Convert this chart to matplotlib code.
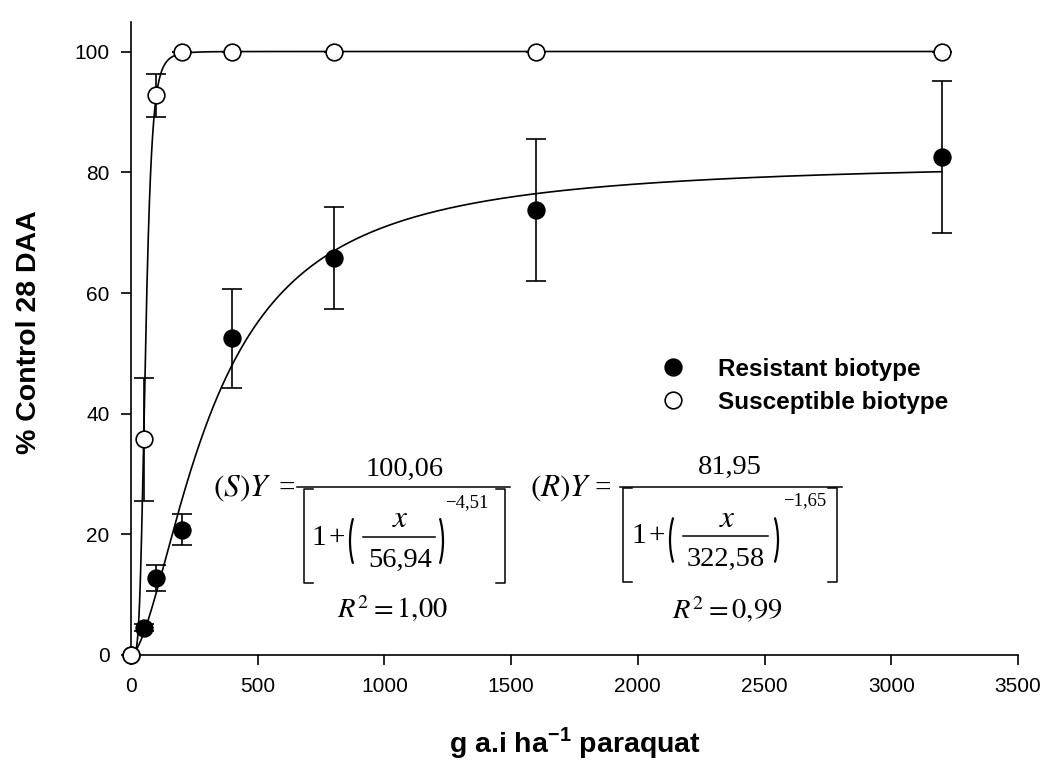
import numpy as np
import matplotlib
matplotlib.use("Agg")
import matplotlib.pyplot as plt
from matplotlib.transforms import Affine2D
from matplotlib.lines import Line2D
from matplotlib.patches import Arc

plt.rcParams['font.family'] = ['Liberation Sans', 'DejaVu Sans']
plt.rcParams['mathtext.fontset'] = 'stix'

dose = [0, 50, 100, 200, 400, 800, 1600, 3200]
res_mean = [0, 4.5, 12.8, 20.8, 52.5, 65.8, 73.8, 82.5]
res_err = [0, 0.6, 2.2, 2.5, 8.2, 8.5, 11.8, 12.6]
sus_mean = [0, 35.8, 92.8, 100, 100, 100, 100, 100]
sus_err = [0, 10.2, 3.6, 0, 0, 0, 0, 0]

# fitted log-logistic parameters (shown in the chart)
sus_a, sus_c, sus_b = 100.06, 56.94, -4.51
res_a, res_c, res_b = 81.95, 322.58, -1.65
sus_r2, res_r2 = '1,00', '0,99'

xticks = [0, 500, 1000, 1500, 2000, 2500, 3000, 3500]
yticks = [0, 20, 40, 60, 80, 100]

W, H = 1047, 762
fig = plt.figure(figsize=(W/100, H/100), dpi=100)
ax = fig.add_axes([131/W, 1-655/H, (1018-131)/W, (655-21.7)/H])

def model(x, a, c, b):
    x = np.asarray(x, float)
    out = np.zeros_like(x)
    m = x > 0
    out[m] = a / (1 + (x[m]/c)**b)
    return out

xs = np.linspace(0, max(dose), 3000)
ax.plot(xs, model(xs, sus_a, sus_c, sus_b), color='black', lw=1.2, zorder=2)
ax.plot(xs, model(xs, res_a, res_c, res_b), color='black', lw=1.2, zorder=2)

ax.errorbar(dose, res_mean, yerr=res_err, fmt='none', ecolor='black',
            elinewidth=1.2, capsize=7, capthick=1.2, zorder=3)
ax.errorbar(dose, sus_mean, yerr=sus_err, fmt='none', ecolor='black',
            elinewidth=1.2, capsize=7, capthick=1.2, zorder=3)
ax.plot(dose, res_mean, 'o', ms=12, mfc='black', mec='black', mew=1.2,
        zorder=4, label='Resistant biotype', clip_on=False)
ax.plot(dose, sus_mean, 'o', ms=12, mfc='white', mec='black', mew=1.2,
        zorder=5, label='Susceptible biotype', clip_on=False)

ax.set_xlim(0, 3500)
ax.set_ylim(0, 105)
ax.set_xticks(xticks)
ax.set_yticks(yticks)
for s in ['top', 'right']:
    ax.spines[s].set_visible(False)
for s in ['left', 'bottom']:
    ax.spines[s].set_linewidth(1.2)
ax.tick_params(direction='out', length=7.5, width=1.2, labelsize=15, pad=8)

ax.set_ylabel('% Control 28 DAA', fontsize=20.5, fontweight='bold')
ax.yaxis.set_label_coords((29-131)/887, (655-332)/633.3)
ax.yaxis.label.set_va('center')
ax.set_xlabel(r'g a.i ha$^{\mathregular{-1}}$ paraquat', fontsize=20.5, fontweight='bold',
              math_fontfamily='dejavusans')
ax.xaxis.set_label_coords(0.5, (655-752)/633.3)
ax.xaxis.label.set_va('baseline')

leg = ax.legend(loc='upper left', bbox_to_anchor=((655-131)/887, (655-358)/633.3),
                frameon=False, prop={'weight': 'bold', 'size': 17.5},
                handletextpad=1.1, labelspacing=0.4, handlelength=1.5,
                borderaxespad=0, borderpad=0)

# ---- equations, laid out in pixel coordinates (origin top-left) ----
px = Affine2D().scale(1/W, -1/H).translate(0, 1) + fig.transFigure
SERIF = 'Liberation Serif'
FS = 20.5
FV = 22.5
SUP = 13.5
LW = 1.1

def txt(x, y, s, size=FS, ha='center', math=False):
    if math:
        fig.text(x, y, s, transform=px, fontsize=size, ha=ha, va='baseline',
                 math_fontfamily='stix')
    else:
        fig.text(x, y, s, transform=px, fontsize=size, ha=ha, va='baseline',
                 family=SERIF)

def hline(x0, x1, y):
    fig.add_artist(Line2D([x0, x1], [y, y], transform=px, color='black', lw=LW))

def bracket(x, y0, y1, serif):
    fig.add_artist(Line2D([x + serif, x, x, x + serif], [y0, y0, y1, y1],
                          transform=px, color='black', lw=LW))

def paren(x_edge, ymid, h, left=True):
    a = 19.0
    b = h / 2 / 0.819
    if left:
        fig.add_artist(Arc((x_edge + a, ymid), 2*a, 2*b, theta1=125, theta2=235,
                           transform=px, color='black', lw=1.6))
    else:
        fig.add_artist(Arc((x_edge - a, ymid), 2*a, 2*b, theta1=-55, theta2=55,
                           transform=px, color='black', lw=1.6))

def fmt(v):
    return ('%.2f' % v).replace('.', ',').replace('-', '\u2212')

# (S) equation
txt(213, 496, r'$(S)Y$', size=FV, ha='left', math=True)
txt(287, 496, '=', size=21)
hline(297, 510, 487)
txt(405, 476, fmt(sus_a))
bracket(304, 489, 583, 9)
bracket(505, 489, 583, -9)
txt(319, 545, '1', size=21)
txt(337, 545, '+', size=21)
paren(350, 541, 68, left=True)
txt(400, 527, r'$x$', size=FV, math=True)
hline(363, 435, 537)
txt(400, 567, fmt(sus_c))
paren(443, 541, 68, left=False)
txt(445, 507, fmt(sus_b), size=SUP, ha='left')
txt(392, 618, r'$R^2=' + sus_r2.replace(',', '{,}') + '$', size=20.5, math=True)

# (R) equation
txt(530, 496, r'$(R)Y$', size=FV, ha='left', math=True)
txt(603, 496, '=', size=21)
hline(620, 842, 487)
txt(730, 474, fmt(res_a))
bracket(623, 488, 582, 9)
bracket(837, 488, 582, -9)
txt(638.5, 543, '1', size=21)
txt(656.5, 543, '+', size=21)
paren(670, 540, 66, left=True)
txt(727, 527, r'$x$', size=FV, math=True)
hline(683, 768, 536)
txt(726, 566, fmt(res_c))
paren(778, 540, 66, left=False)
txt(783, 505, fmt(res_b), size=SUP, ha='left')
txt(727, 619, r'$R^2=' + res_r2.replace(',', '{,}') + '$', size=20.5, math=True)

fig.savefig('out.png', dpi=100)
